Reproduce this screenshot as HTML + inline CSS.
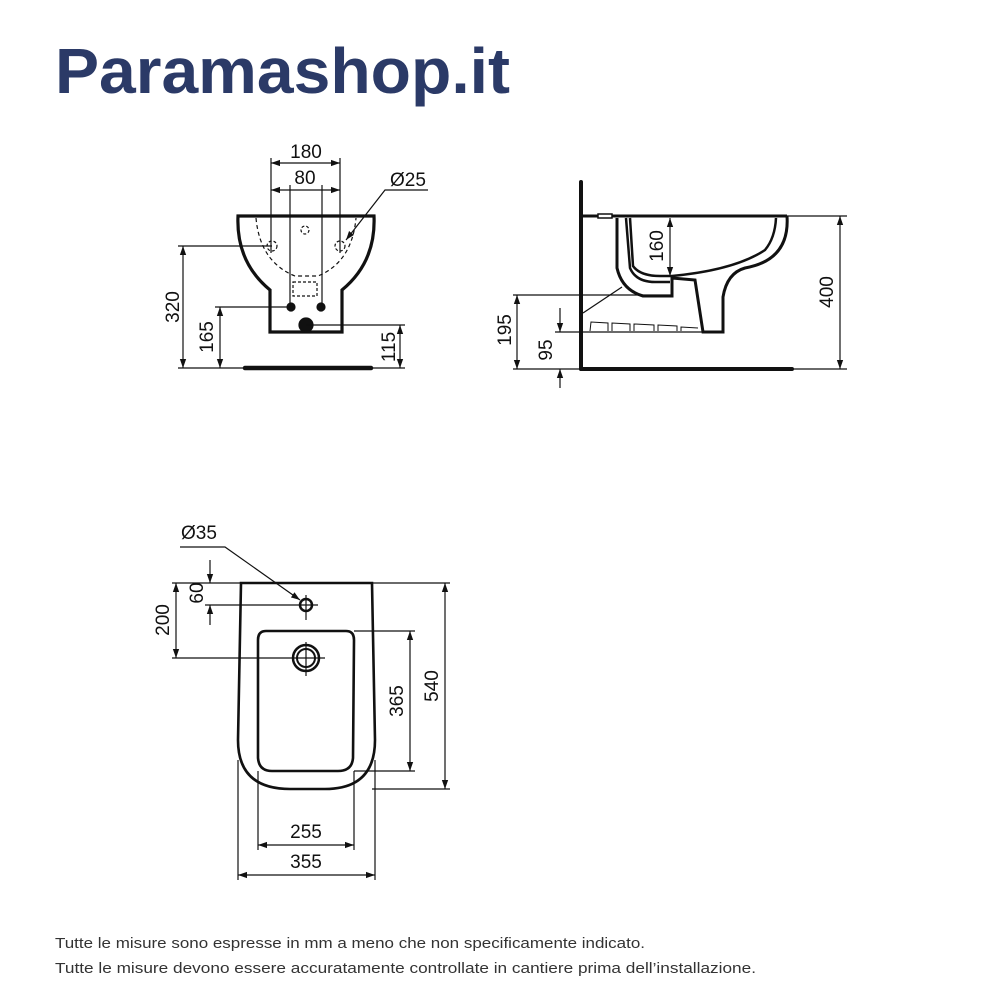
<!DOCTYPE html>
<html><head><meta charset="utf-8"><style>
html,body{margin:0;padding:0;background:#fff}
svg{display:block}
text{font-family:"Liberation Sans",Arial,sans-serif}
</style></head><body>
<svg width="1000" height="1000" viewBox="0 0 1000 1000" xmlns="http://www.w3.org/2000/svg">
<defs>
<marker id="a" viewBox="0 0 10 10" refX="10" refY="5" markerWidth="9" markerHeight="9" orient="auto-start-reverse" markerUnits="userSpaceOnUse"><path d="M0,1.5 L10,5 L0,8.5 z" fill="#111"/></marker>
</defs>
<rect width="1000" height="1000" fill="#fff"/>
<text x="55" y="93" font-size="64" font-weight="bold" fill="#2b3a67" textLength="455" lengthAdjust="spacingAndGlyphs">Paramashop.it</text>

<g stroke="#111" fill="none" stroke-width="1.2">
<!-- FRONT VIEW -->
<path d="M238,216 L374,216 Q376,262 342,290 L342,332 L270,332 L270,290 Q236,262 238,216 Z" stroke-width="3.2"/>
<path d="M256,218 Q260,262 295,276 L318,276 Q352,262 356,218" stroke-dasharray="4,3"/>
<rect x="293" y="282" width="24" height="14" stroke-dasharray="3,2"/>
<circle cx="272" cy="246" r="5" stroke-dasharray="3,2"/>
<circle cx="340" cy="246" r="5" stroke-dasharray="3,2"/>
<circle cx="305" cy="230" r="4" stroke-dasharray="3,2"/>
<circle cx="291" cy="307" r="4" fill="#111"/>
<circle cx="321" cy="307" r="4" fill="#111"/>
<circle cx="306" cy="325" r="7" fill="#111"/>
<line x1="271" y1="158" x2="271" y2="253"/><line x1="340" y1="158" x2="340" y2="253"/>
<line x1="290" y1="185" x2="290" y2="307"/><line x1="322" y1="185" x2="322" y2="307"/>
<line x1="271" y1="163" x2="340" y2="163" marker-start="url(#a)" marker-end="url(#a)"/>
<line x1="271" y1="190" x2="340" y2="190" marker-start="url(#a)" marker-end="url(#a)"/>
<polyline points="428,190 385,190 346,240" marker-end="url(#a)"/>
<line x1="178" y1="246" x2="272" y2="246"/>
<line x1="215" y1="307" x2="291" y2="307"/>
<line x1="306" y1="325" x2="405" y2="325"/>
<line x1="178" y1="368" x2="405" y2="368"/>
<line x1="245" y1="368" x2="371" y2="368" stroke-width="4.5" stroke-linecap="round"/>
<line x1="183" y1="246" x2="183" y2="368" marker-start="url(#a)" marker-end="url(#a)"/>
<line x1="220" y1="307" x2="220" y2="368" marker-start="url(#a)" marker-end="url(#a)"/>
<line x1="400" y1="325" x2="400" y2="368" marker-start="url(#a)" marker-end="url(#a)"/>

<!-- SIDE VIEW -->
<line x1="581" y1="182" x2="581" y2="369" stroke-width="4" stroke-linecap="round"/>
<line x1="581" y1="369" x2="792" y2="369" stroke-width="4" stroke-linecap="round"/>
<line x1="581" y1="216" x2="787" y2="216" stroke-width="3"/>
<path d="M787,216 Q790,260 745,268 Q727,273 723,297 L723,332 L703,332 L695,280 L672,278 L672,296 L643,296 Q622,290 617,268 L617,218" stroke-width="3"/>
<path d="M626,218 L630,268 Q636,282 655,282 L670,282" stroke-width="2.5"/>
<path d="M630,218 L633,266 Q640,276 660,276 L672,276 Q735,270 765,250 Q775,238 776,218" stroke-width="2.5"/>
<rect x="598" y="214" width="14" height="4" fill="#fff" stroke-width="1.5"/>
<line x1="581" y1="332" x2="723" y2="332"/>
<g stroke-width="1"><path d="M590,331 L591,322 L608,323 L608,331"/><path d="M612,331 L612,323 L630,324 L630,331"/><path d="M634,331 L634,324 L654,325 L654,331"/><path d="M658,331 L658,325 L677,326 L677,331"/><path d="M681,331 L681,327 L698,328"/></g>
<line x1="583" y1="313" x2="622" y2="287"/>
<line x1="513" y1="295" x2="672" y2="295"/>
<line x1="555" y1="332" x2="581" y2="332"/>
<line x1="513" y1="369" x2="581" y2="369"/>
<line x1="792" y1="369" x2="847" y2="369"/>
<line x1="787" y1="216" x2="847" y2="216"/>
<line x1="840" y1="216" x2="840" y2="369" marker-start="url(#a)" marker-end="url(#a)"/>
<line x1="670" y1="218" x2="670" y2="276" marker-start="url(#a)" marker-end="url(#a)"/>
<line x1="517" y1="295" x2="517" y2="369" marker-start="url(#a)" marker-end="url(#a)"/>
<line x1="560" y1="308" x2="560" y2="332" marker-end="url(#a)"/>
<line x1="560" y1="388" x2="560" y2="369" marker-end="url(#a)"/>

<!-- TOP VIEW -->
<path d="M241,583 L372,583 L375,740 Q375,789 325,789 L290,789 Q238,789 238,740 Z" stroke-width="2.6"/>
<path d="M266,631 L346,631 Q354,631 354,640 L353,758 Q352,771 338,771 L272,771 Q259,771 258,758 L258,640 Q258,631 266,631 Z" stroke-width="2.6"/>
<circle cx="306" cy="605" r="6" stroke-width="2.5"/>
<circle cx="306" cy="658" r="13" stroke-width="2.5"/>
<circle cx="306" cy="658" r="9" stroke-width="2"/>
<line x1="306" y1="595" x2="306" y2="620"/>
<line x1="306" y1="642" x2="306" y2="676"/>
<line x1="205" y1="605" x2="318" y2="605"/>
<line x1="172" y1="658" x2="325" y2="658"/>
<line x1="172" y1="583" x2="450" y2="583"/>
<line x1="354" y1="631" x2="415" y2="631"/>
<line x1="354" y1="771" x2="415" y2="771"/>
<line x1="372" y1="789" x2="450" y2="789"/>
<line x1="445" y1="583" x2="445" y2="789" marker-start="url(#a)" marker-end="url(#a)"/>
<line x1="410" y1="631" x2="410" y2="771" marker-start="url(#a)" marker-end="url(#a)"/>
<line x1="176" y1="583" x2="176" y2="658" marker-start="url(#a)" marker-end="url(#a)"/>
<line x1="210" y1="560" x2="210" y2="583" marker-end="url(#a)"/>
<line x1="210" y1="625" x2="210" y2="605" marker-end="url(#a)"/>
<polyline points="180,547 225,547 300,600" marker-end="url(#a)"/>
<line x1="258" y1="771" x2="258" y2="850"/><line x1="354" y1="771" x2="354" y2="850"/>
<line x1="238" y1="760" x2="238" y2="880"/><line x1="375" y1="760" x2="375" y2="880"/>
<line x1="258" y1="845" x2="354" y2="845" marker-start="url(#a)" marker-end="url(#a)"/>
<line x1="238" y1="875" x2="375" y2="875" marker-start="url(#a)" marker-end="url(#a)"/>
</g>

<g font-size="19" fill="#111">
<text x="306" y="158" text-anchor="middle">180</text>
<text x="305" y="184" text-anchor="middle">80</text>
<text x="408" y="186" text-anchor="middle">Ø25</text>
<text transform="translate(179,307) rotate(-90)" text-anchor="middle">320</text>
<text transform="translate(213,337) rotate(-90)" text-anchor="middle">165</text>
<text transform="translate(395,347) rotate(-90)" text-anchor="middle">115</text>
<text transform="translate(833,292) rotate(-90)" text-anchor="middle">400</text>
<text transform="translate(663,246) rotate(-90)" text-anchor="middle">160</text>
<text transform="translate(511,330) rotate(-90)" text-anchor="middle">195</text>
<text transform="translate(552,350) rotate(-90)" text-anchor="middle">95</text>
<text x="199" y="539" text-anchor="middle">Ø35</text>
<text transform="translate(203,593) rotate(-90)" text-anchor="middle">60</text>
<text transform="translate(169,620) rotate(-90)" text-anchor="middle">200</text>
<text transform="translate(403,701) rotate(-90)" text-anchor="middle">365</text>
<text transform="translate(438,686) rotate(-90)" text-anchor="middle">540</text>
<text x="306" y="838" text-anchor="middle">255</text>
<text x="306" y="868" text-anchor="middle">355</text>
</g>
<g font-size="14.5" fill="#333">
<text x="55" y="948" textLength="590" lengthAdjust="spacingAndGlyphs">Tutte le misure sono espresse in mm a meno che non specificamente indicato.</text>
<text x="55" y="973" textLength="701" lengthAdjust="spacingAndGlyphs">Tutte le misure devono essere accuratamente controllate in cantiere prima dell’installazione.</text>
</g>
</svg>
</body></html>
